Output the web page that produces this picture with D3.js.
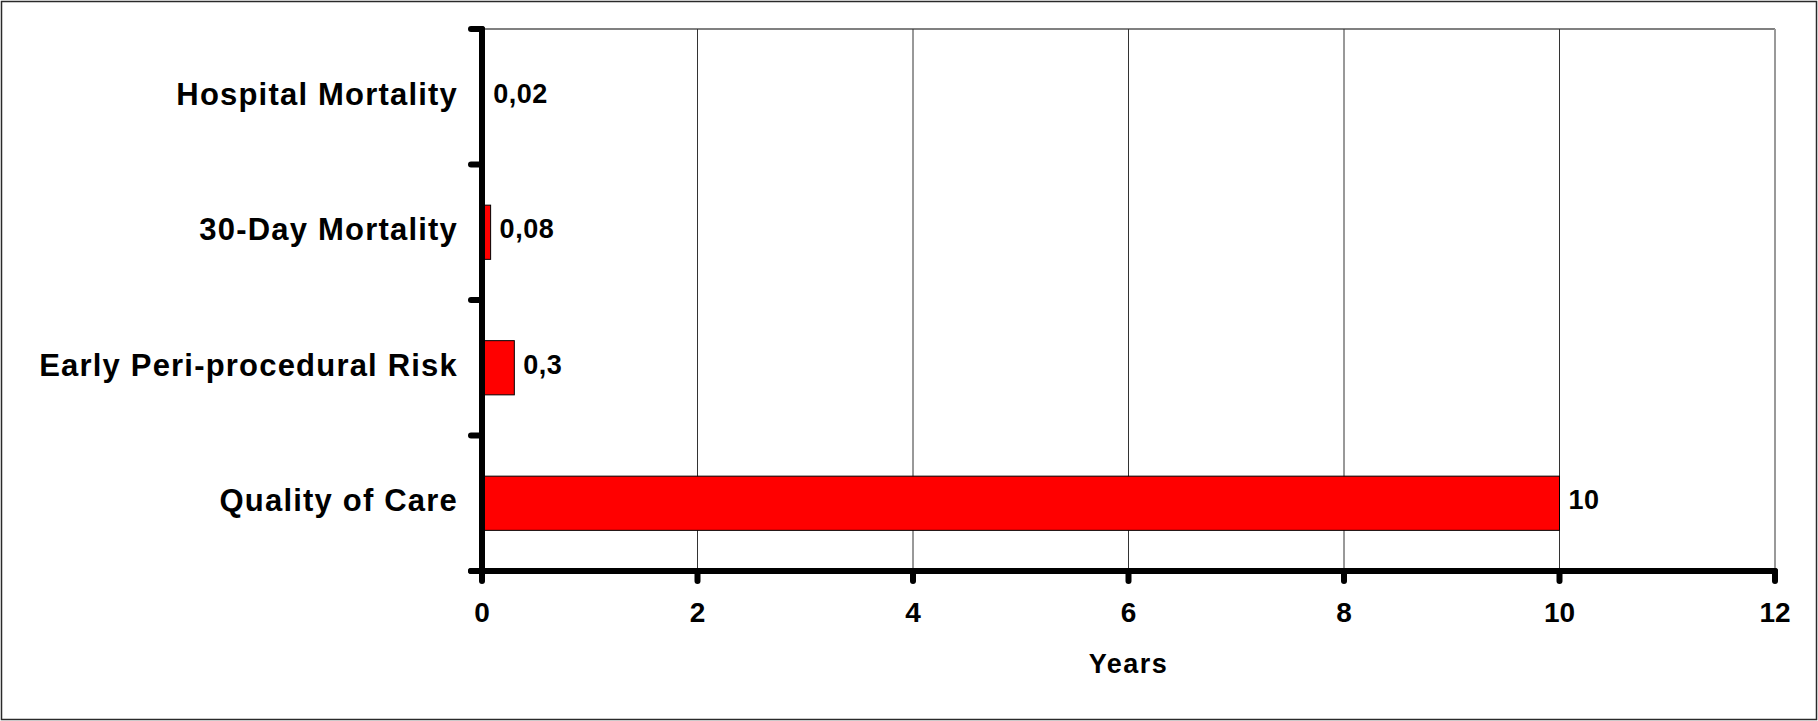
<!DOCTYPE html>
<html>
<head>
<meta charset="utf-8">
<script src="https://cdn.jsdelivr.net/npm/d3@7"></script>
<style>
  body { margin: 0; background: #fff; }
  svg { display: block; }
  text { font-family: "Liberation Sans", Arial, sans-serif; font-weight: bold; fill: #000; }
</style>
</head>
<body>
<div class="svg-wrap"></div>
<script>
const categories = ["Hospital Mortality", "30-Day Mortality", "Early Peri-procedural Risk", "Quality of Care"];
const values = [0.02, 0.08, 0.3, 10];
const xTicks = [0, 2, 4, 6, 8, 10, 12];
const xTitle = "Years";

const width = 1818;
const height = 721;
const plotLeft = 482, plotRight = 1775, plotTop = 29, plotBottom = 571;

let svg = d3.select(".svg-wrap")
  .append("svg")
  .attr("width", width)
  .attr("height", height);

// outer frame
svg.append("rect")
  .attr("x", 1.5).attr("y", 1.5)
  .attr("width", width - 3).attr("height", height - 3)
  .attr("fill", "none")
  .attr("stroke", "#2a2a2a")
  .attr("stroke-width", 1.5);

let x = d3.scaleLinear().domain([0, 12]).range([plotLeft, plotRight]);
let y = d3.scaleBand().domain(categories).range([plotTop, plotBottom])
  .paddingInner(0.6).paddingOuter(0.3);

// plot area border (top / right) in gray
svg.append("line")
  .attr("x1", plotLeft).attr("x2", plotRight)
  .attr("y1", plotTop).attr("y2", plotTop)
  .attr("stroke", "#808080").attr("stroke-width", 2);
svg.append("line")
  .attr("x1", plotRight).attr("x2", plotRight)
  .attr("y1", plotTop).attr("y2", plotBottom)
  .attr("stroke", "#999").attr("stroke-width", 2);

// vertical gridlines
svg.append("g")
  .selectAll("line")
  .data(xTicks.filter(d => d > 0 && d < 12))
  .enter()
  .append("line")
  .attr("x1", d => x(d)).attr("x2", d => x(d))
  .attr("y1", plotTop).attr("y2", plotBottom)
  .attr("stroke", "#333")
  .attr("stroke-width", 1);

// bars
svg.append("g")
  .selectAll("rect")
  .data(values)
  .enter()
  .append("rect")
  .attr("x", x(0))
  .attr("y", (d, i) => y(categories[i]))
  .attr("width", d => x(d) - x(0))
  .attr("height", y.bandwidth())
  .attr("fill", "#ff0000")
  .attr("stroke", "#000")
  .attr("stroke-width", 1);

// value labels
svg.append("g")
  .selectAll("text")
  .data(values)
  .enter()
  .append("text")
  .attr("x", d => Math.max(x(d), x(0) + 2) + 9)
  .attr("y", (d, i) => y(categories[i]) + y.bandwidth() / 2 + 6)
  .attr("font-size", 27)
  .attr("letter-spacing", 0.5)
  .text(d => String(d).replace(".", ","));

// axes (thick black, round caps)
let axisStyle = sel => sel.attr("stroke", "#000").attr("stroke-width", 6).attr("stroke-linecap", "round");

svg.append("line")
  .attr("x1", plotLeft).attr("x2", plotLeft)
  .attr("y1", plotTop).attr("y2", plotBottom)
  .call(axisStyle);
svg.append("line")
  .attr("x1", plotLeft - 11).attr("x2", plotRight)
  .attr("y1", plotBottom).attr("y2", plotBottom)
  .call(axisStyle);

// y ticks at category boundaries
let gap = y.step() - y.bandwidth();
let yBounds = categories.map(c => y(c) - gap / 2);
yBounds.push(y(categories[categories.length - 1]) + y.bandwidth() + gap / 2);
svg.append("g")
  .selectAll("line")
  .data(yBounds)
  .enter()
  .append("line")
  .attr("x1", plotLeft - 11).attr("x2", plotLeft)
  .attr("y1", d => d).attr("y2", d => d)
  .call(axisStyle);

// category labels
svg.append("g")
  .selectAll("text")
  .data(categories)
  .enter()
  .append("text")
  .attr("x", plotLeft - 24)
  .attr("y", d => y(d) + y.bandwidth() / 2 + 8)
  .attr("text-anchor", "end")
  .attr("font-size", 31)
  .attr("letter-spacing", 1.2)
  .text(d => d);

// x ticks and labels
svg.append("g")
  .selectAll("line")
  .data(xTicks)
  .enter()
  .append("line")
  .attr("x1", d => x(d)).attr("x2", d => x(d))
  .attr("y1", plotBottom).attr("y2", plotBottom + 10)
  .call(axisStyle);

svg.append("g")
  .selectAll("text")
  .data(xTicks)
  .enter()
  .append("text")
  .attr("x", d => x(d))
  .attr("y", 621.5)
  .attr("text-anchor", "middle")
  .attr("font-size", 28)
  .text(d => d);

svg.append("text")
  .attr("x", (plotLeft + plotRight) / 2)
  .attr("y", 673)
  .attr("text-anchor", "middle")
  .attr("font-size", 27)
  .attr("letter-spacing", 1.5)
  .text(xTitle);
</script>
</body>
</html>
